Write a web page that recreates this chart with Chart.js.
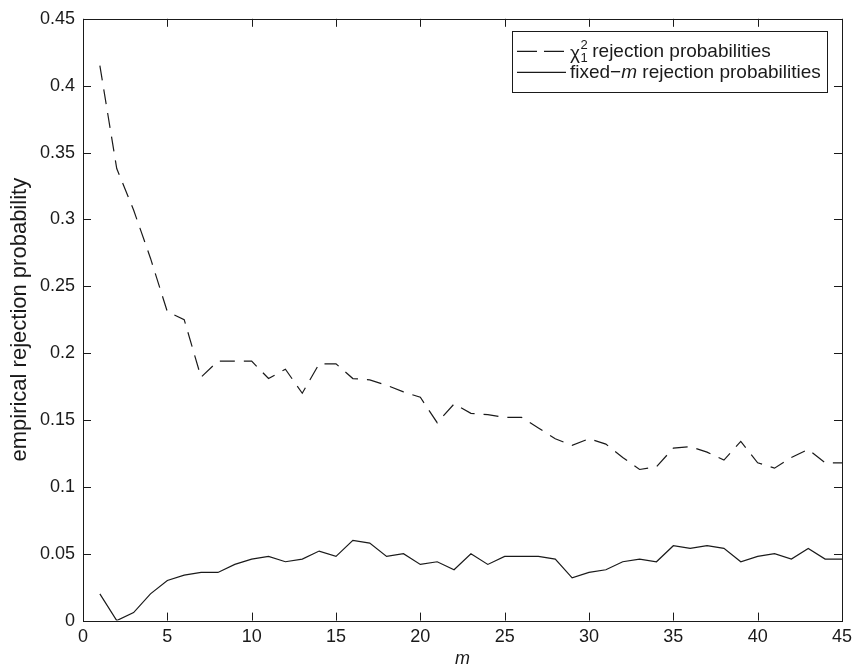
<!DOCTYPE html>
<html>
<head>
<meta charset="utf-8">
<script src="https://cdn.jsdelivr.net/npm/chart.js@4.4.0/dist/chart.umd.min.js"></script>
<style>
    html, body { margin: 0; padding: 0; background: #fff; }
    #contenitore { width: 858px; height: 669px; }
</style>
</head>
<body>
<div id="contenitore"><canvas id="grafico-rifiuto"></canvas></div>
<script>
var valoriM = [1, 2, 3, 4, 5, 6, 7, 8, 9, 10, 11, 12, 13, 14, 15, 16, 17, 18, 19, 20, 21, 22, 23,
    24, 25, 26, 27, 28, 29, 30, 31, 32, 33, 34, 35, 36, 37, 38, 39, 40, 41, 42, 43, 44, 45];

var rifiutoChi2 = [0.415, 0.338, 0.307, 0.271, 0.231, 0.225, 0.182, 0.194, 0.194, 0.194,
    0.181, 0.188, 0.170, 0.192, 0.192, 0.181, 0.180, 0.176, 0.171, 0.167,
    0.148, 0.162, 0.155, 0.154, 0.152, 0.152, 0.144, 0.136, 0.131, 0.136,
    0.132, 0.122, 0.113, 0.115, 0.129, 0.130, 0.126, 0.120, 0.134, 0.118,
    0.114, 0.122, 0.128, 0.118, 0.118];

var rifiutoFixedM = [0.020, 0.000, 0.006, 0.020, 0.030, 0.034, 0.036, 0.036, 0.042, 0.046,
    0.048, 0.044, 0.046, 0.052, 0.048, 0.060, 0.058, 0.048, 0.050, 0.042,
    0.044, 0.038, 0.050, 0.042, 0.048, 0.048, 0.048, 0.046, 0.032, 0.036,
    0.038, 0.044, 0.046, 0.044, 0.056, 0.054, 0.056, 0.054, 0.044, 0.048,
    0.050, 0.046, 0.054, 0.046, 0.046];

var etichetteX = ['0', '5', '10', '15', '20', '25', '30', '35', '40', '45'];
var etichetteY = ['0', '0.05', '0.1', '0.15', '0.2', '0.25', '0.3', '0.35', '0.4', '0.45'];

var font = '"Liberation Sans", Arial, Helvetica, sans-serif';
var nero = '#1a1a1a';

function punti(valori) {
    var lista = [];
    for (var i = 0; i < valoriM.length; i++) {
        lista.push({ x: valoriM[i], y: valori[i] });
    }
    return lista;
}

// box and inward ticks on all four sides, like matlab
var boxETacche = {
    id: 'boxETacche',
    afterDatasetsDraw: function (chart) {
        var ctx = chart.ctx;
        var a = chart.chartArea;
        var sx = chart.scales.x;
        var sy = chart.scales.y;
        var lung = 8;
        ctx.save();
        ctx.strokeStyle = nero;
        ctx.lineWidth = 1;
        ctx.strokeRect(Math.round(a.left) + 0.5, Math.round(a.top) + 0.5,
            Math.round(a.right - a.left), Math.round(a.bottom - a.top));
        ctx.beginPath();
        sx.ticks.forEach(function (t) {
            var px = Math.round(sx.getPixelForValue(t.value)) + 0.5;
            ctx.moveTo(px, a.bottom);
            ctx.lineTo(px, a.bottom - lung);
            ctx.moveTo(px, a.top);
            ctx.lineTo(px, a.top + lung);
        });
        sy.ticks.forEach(function (t) {
            var py = Math.round(sy.getPixelForValue(t.value)) + 0.5;
            ctx.moveTo(a.left, py);
            ctx.lineTo(a.left + lung, py);
            ctx.moveTo(a.right, py);
            ctx.lineTo(a.right - lung, py);
        });
        ctx.stroke();
        ctx.restore();
    }
};

// legend with chi^2_1 notation
var legenda = {
    id: 'legenda',
    afterDraw: function (chart) {
        var ctx = chart.ctx;
        var a = chart.chartArea;
        var dx = a.right - 15;
        var sx = dx - 315;
        var top = a.top + 12.5;
        ctx.save();
        ctx.fillStyle = '#fff';
        ctx.fillRect(sx, top, 315, 61);
        ctx.strokeStyle = nero;
        ctx.lineWidth = 1;
        ctx.strokeRect(Math.round(sx) + 0.5, Math.round(top) + 0.5, 315, 61);

        var r1 = top + 20;
        var r2 = top + 41;
        ctx.lineWidth = 1.2;
        ctx.setLineDash([20, 7]);
        ctx.beginPath();
        ctx.moveTo(sx + 5, r1);
        ctx.lineTo(sx + 54, r1);
        ctx.stroke();
        ctx.setLineDash([]);
        ctx.beginPath();
        ctx.moveTo(sx + 5, r2);
        ctx.lineTo(sx + 54, r2);
        ctx.stroke();

        ctx.fillStyle = nero;
        ctx.textBaseline = 'middle';
        var tx = sx + 58;
        ctx.font = '19px ' + font;
        ctx.fillText('\u03c7', tx, r1 + 2);
        var w = ctx.measureText('\u03c7').width;
        ctx.font = '13px ' + font;
        ctx.fillText('2', tx + w + 0.5, r1 - 6);
        ctx.fillText('1', tx + w + 0.5, r1 + 7);
        ctx.font = '19px ' + font;
        ctx.fillText(' rejection probabilities', tx + w + 7, r1);

        ctx.fillText('fixed\u2212', tx, r2);
        var w2 = ctx.measureText('fixed\u2212').width;
        ctx.font = 'italic 19px ' + font;
        ctx.fillText('m', tx + w2, r2);
        var w3 = ctx.measureText('m').width;
        ctx.font = '19px ' + font;
        ctx.fillText(' rejection probabilities', tx + w2 + w3, r2);
        ctx.restore();
    }
};

var ctx = document.getElementById('grafico-rifiuto');
var chart = new Chart(ctx, {
    type: 'line',
    data: {
        datasets: [{
            label: '\u03c7\u00b2\u2081 rejection probabilities',
            data: punti(rifiutoChi2),
            borderColor: nero,
            borderWidth: 1.2,
            borderDash: [15, 9],
            pointRadius: 0,
            tension: 0,
            fill: false
        }, {
            label: 'fixed\u2212m rejection probabilities',
            data: punti(rifiutoFixedM),
            borderColor: nero,
            borderWidth: 1.2,
            pointRadius: 0,
            tension: 0,
            fill: false
        }]
    },
    options: {
        responsive: true,
        maintainAspectRatio: false,
        animation: false,
        layout: { padding: { top: 18, right: 10, left: 0, bottom: 0 } },
        plugins: {
            legend: { display: false },
            tooltip: { enabled: false }
        },
        scales: {
            x: {
                type: 'linear',
                min: 0,
                max: 45,
                ticks: {
                    stepSize: 5,
                    padding: 6,
                    color: nero,
                    font: { family: font, size: 18 },
                    maxRotation: 0,
                    callback: function (value) {
                        return etichetteX[Math.round(value / 5)];
                    }
                },
                grid: { display: false, drawTicks: false },
                border: { display: false },
                title: {
                    display: true,
                    text: 'm',
                    color: nero,
                    font: { family: font, size: 18, style: 'italic' },
                    padding: { top: 0, bottom: -1 }
                },
                afterFit: function (scale) { scale.height = 48.4; }
            },
            y: {
                min: 0,
                max: 0.45,
                ticks: {
                    stepSize: 0.05,
                    padding: 8,
                    color: nero,
                    font: { family: font, size: 18 },
                    callback: function (value) {
                        return etichetteY[Math.round(value / 0.05)];
                    }
                },
                grid: { display: false, drawTicks: false },
                border: { display: false },
                title: {
                    display: true,
                    text: 'empirical rejection probability',
                    color: nero,
                    font: { family: font, size: 22 },
                    padding: { top: 7, bottom: 0 }
                },
                afterFit: function (scale) { scale.width = 83; }
            }
        }
    },
    plugins: [boxETacche, legenda]
});
</script>
</body>
</html>
